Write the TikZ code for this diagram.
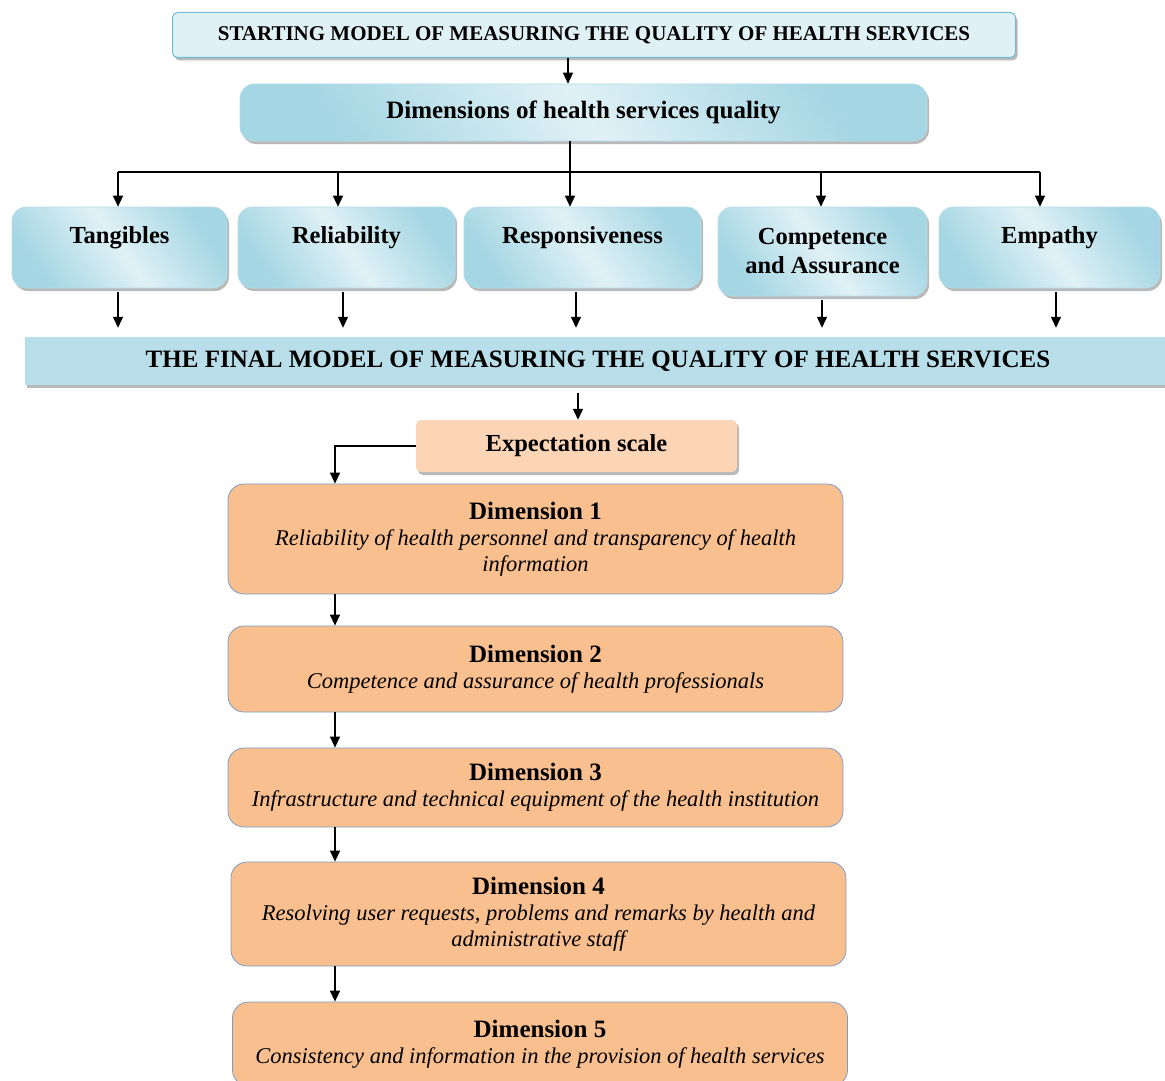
\documentclass[tikz,border=0pt]{standalone}
\usepackage{fontspec}
\setmainfont{Liberation Serif}
\usepackage{xcolor}
\usepackage{tikz}
\usetikzlibrary{arrows.meta,shadows}
\definecolor{bluelight}{HTML}{E0F1F6}
\definecolor{bluedark}{HTML}{A4D6E3}
\definecolor{blueline}{HTML}{6EBCD1}
\definecolor{bluebar}{HTML}{B7DEE9}
\definecolor{peachlight}{HTML}{FBD5B5}
\definecolor{peach}{HTML}{F9BF8F}
\definecolor{peachline}{HTML}{7E9CC4}

\begin{document}
\begin{tikzpicture}[x=1pt,y=-1pt,
  arr/.style={line width=1.3pt,-{Triangle[length=11pt,width=10pt]}},
  shadowed/.style={drop shadow={shadow xshift=2pt,shadow yshift=-3pt,fill=black!55}},
  headbox/.style={shadowed,rounded corners=5pt,draw=blueline,line width=1pt,fill=bluelight,
    font=\fontsize{21}{25}\selectfont\bfseries},
  bluebox/.style={shadowed,rounded corners=14pt,draw=blueline!50,line width=0.6pt,
    left color=bluedark,right color=bluedark,middle color=bluelight,shading angle=125,
    align=center,font=\fontsize{24.5}{29}\selectfont\bfseries},
  toptext/.style={inner ysep=18pt,text height=18pt,text depth=27pt},
  dimbox/.style={rounded corners=16pt,draw=peachline,line width=0.8pt,fill=peach,
    minimum width=615pt,align=center,font=\fontsize{22.5}{26}\selectfont\itshape}]
  \useasboundingbox (0,0) rectangle (1165,1081);

  \node[headbox,minimum width=843pt,minimum height=45pt] (start) at (594,35)
    {STARTING MODEL OF MEASURING THE QUALITY OF HEALTH SERVICES};
  \node[bluebox,minimum width=687pt,minimum height=57pt,font=\fontsize{25}{29}\selectfont\bfseries]
    (dims) at (583.5,112.5) {Dimensions of health services quality};

  \node[bluebox,toptext,minimum width=215pt] (tang) at (119.5,247.5) {Tangibles};
  \node[bluebox,toptext,minimum width=217pt] (reli) at (346.5,247.5) {Reliability};
  \node[bluebox,toptext,minimum width=237pt] (resp) at (582.5,247.5) {Responsiveness};
  \node[bluebox,minimum width=209pt,minimum height=89pt] (comp) at (822.5,251.5) {Competence\\and Assurance};
  \node[bluebox,toptext,minimum width=221pt] (empa) at (1049.5,247.5) {Empathy};

  \node[shadowed,fill=bluebar,minimum width=1146pt,minimum height=48pt,
    font=\fontsize{25}{29}\selectfont\bfseries] (final) at (598,361)
    {THE FINAL MODEL OF MEASURING THE QUALITY OF HEALTH SERVICES};
  \node[shadowed,rounded corners=5pt,fill=peachlight,minimum width=321pt,minimum height=52pt,
    font=\fontsize{24.5}{29}\selectfont\bfseries] (expect) at (576.5,446) {Expectation scale};

  \node[dimbox,minimum height=110pt] (dim1) at (535.5,539)
    {\textbf{\fontsize{25}{26}\selectfont\upshape Dimension 1}\\Reliability of health personnel and transparency of health\\information};
  \node[dimbox,minimum height=86pt] (dim2) at (535.5,669)
    {\textbf{\fontsize{25}{26}\selectfont\upshape Dimension 2}\\Competence and assurance of health professionals};
  \node[dimbox,minimum height=79pt] (dim3) at (535.5,787.5)
    {\textbf{\fontsize{25}{26}\selectfont\upshape Dimension 3}\\Infrastructure and technical equipment of the health institution};
  \node[dimbox,minimum height=104pt] (dim4) at (538.5,914)
    {\textbf{\fontsize{25}{26}\selectfont\upshape Dimension 4}\\Resolving user requests, problems and remarks by health and\\administrative staff};
  \node[dimbox,minimum height=84pt] (dim5) at (540,1044)
    {\textbf{\fontsize{25}{26}\selectfont\upshape Dimension 5}\\Consistency and information in the provision of health services};

  \coordinate (fork) at (570,172);
  \draw[arr] ([xshift=-26pt]start.south) -- ([xshift=-26pt]start.south |- dims.north);
  \draw[arr] (dims.south -| fork) -- (resp.north -| fork);
  \draw[line width=1.3pt] (fork -| 118,0) -- (fork -| 1040,0);
  \foreach \n/\x in {tang/118,reli/338,comp/821,empa/1040}
    \draw[arr] (fork -| \x,0) -- (\n.north -| \x,0);
  \foreach \n/\x in {tang/118,reli/343,resp/576,comp/822,empa/1056}
    \draw[arr] ([yshift=-4pt]\n.south -| \x,0) -- ([yshift=9pt]final.north -| \x,0);
  \draw[arr] ([yshift=-8pt]final.south -| 578,0) -- (expect.north -| 578,0);
  \draw[arr] (expect.west) -| (dim1.north -| 335,0);
  \draw[arr] (dim1.south -| 335,0) -- (dim2.north -| 335,0);
  \draw[arr] (dim2.south -| 335,0) -- (dim3.north -| 335,0);
  \draw[arr] (dim3.south -| 335,0) -- (dim4.north -| 335,0);
  \draw[arr] (dim4.south -| 335,0) -- (dim5.north -| 335,0);
\end{tikzpicture}
\end{document}
